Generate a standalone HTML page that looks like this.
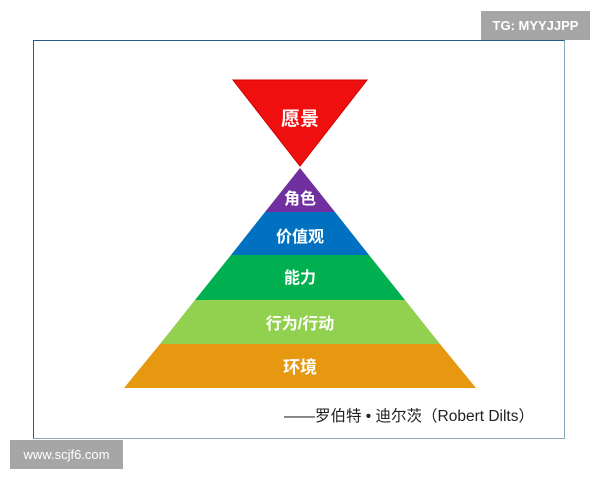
<!DOCTYPE html>
<html><head><meta charset="utf-8"><style>
body{margin:0;width:600px;height:480px;background:#fff;position:relative;overflow:hidden;font-family:"Liberation Sans","Noto Sans CJK SC",sans-serif}
.frame{position:absolute;left:33px;top:40px;width:532px;height:399px;border:1px solid #2a5a8a;border-right-color:#8ab;border-bottom-color:#8ab;box-sizing:border-box}
.badge{position:absolute;background:#a6a6a6;color:#fff;font-size:13px;display:flex;align-items:center;justify-content:center}
</style></head><body>
<div class="frame"></div>
<div class="badge" style="left:481px;top:11px;width:109px;height:29px;font-weight:bold">TG: MYYJJPP</div>
<div class="badge" style="left:10px;top:440px;width:113px;height:29px">www.scjf6.com</div>
<svg width="600" height="480" style="position:absolute;left:0;top:0" font-family="Liberation Sans, Noto Sans CJK SC, sans-serif" font-weight="bold" fill="#fff" text-anchor="middle">
<polygon points="233,80 367,80 300,166" fill="#f00f0f" stroke="#c00" stroke-width="1"/>
<polygon points="300,168 335,212 265,212" fill="#7030a0"/>
<polygon points="265,212 335,212 369,255 231,255" fill="#0070c0"/>
<polygon points="231,255 369,255 405,300 195,300" fill="#00b050"/>
<polygon points="195,300 405,300 440,344 160,344" fill="#92d050"/>
<polygon points="160,344 440,344 476,388 124,388" fill="#e59810"/>
<text x="300" y="125" font-size="19">愿景</text>
<text x="300" y="204" font-size="16">角色</text>
<text x="300" y="242" font-size="16">价值观</text>
<text x="300" y="283" font-size="16">能力</text>
<text x="300" y="329" font-size="16">行为/行动</text>
<text x="300" y="373" font-size="17">环境</text>
<text x="534" y="421" font-size="15.5" font-weight="normal" fill="#222" text-anchor="end">——罗伯特 • 迪尔茨（Robert Dilts）</text>
</svg>
</body></html>
